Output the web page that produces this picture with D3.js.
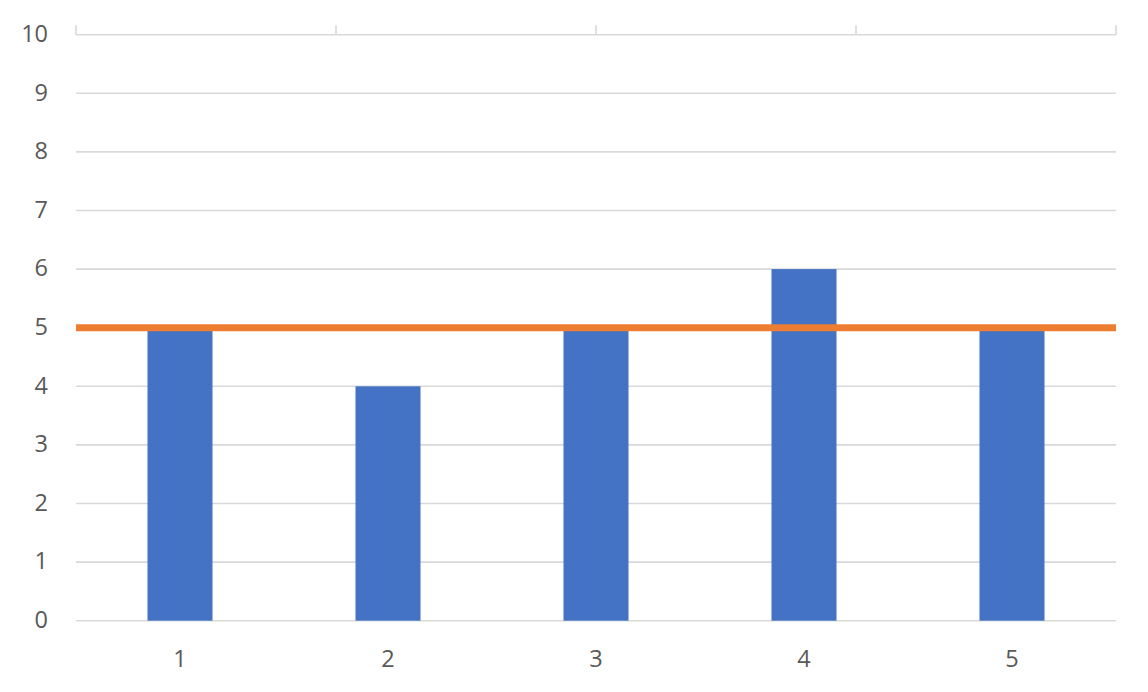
<!DOCTYPE html>
<html><head><meta charset="utf-8">
<script src="https://cdn.jsdelivr.net/npm/d3@7"></script>
<style>body{margin:0;background:#fff;} svg{display:block;}</style>
</head><body>
<svg id="c" width="1148" height="692"></svg>
<script>
const categories = ["1","2","3","4","5"];
const barValues = [5,4,5,6,5];
const lineCategories = ["1","2","3","4","5"];
const lineValues = [5,5,5,5,5];
const yTicks = [0,1,2,3,4,5,6,7,8,9,10];

const svg = d3.select("#c");
const L = 76, R = 1116, T = 34.7, B = 620.7;
const font = "'Open Sans', 'Noto Sans', sans-serif";

const x = d3.scaleBand().domain(categories).range([L,R]).paddingInner(0.6875).paddingOuter(0.34375);
const x2 = d3.scalePoint().domain(lineCategories).range([L,R]).padding(0);
const y = d3.scaleLinear().domain([0,10]).range([B,T]);

// gridlines
svg.append("g").selectAll("line").data(yTicks).join("line")
  .attr("x1",L).attr("x2",R).attr("y1",d=>y(d)).attr("y2",d=>y(d))
  .attr("stroke","#d9d9d9").attr("stroke-width",1.6);

// top secondary axis ticks
svg.append("g").selectAll("line").data(lineCategories).join("line")
  .attr("x1",d=>x2(d)).attr("x2",d=>x2(d)).attr("y1",T).attr("y2",T-9.5)
  .attr("stroke","#d9d9d9").attr("stroke-width",1.6);

// bars
svg.append("g").selectAll("rect").data(categories).join("rect")
  .attr("x",d=>x(d)).attr("width",x.bandwidth())
  .attr("y",(d,i)=>y(barValues[i])).attr("height",(d,i)=>y(0)-y(barValues[i]))
  .attr("fill","#4472c4");

// line
const line = d3.line().x((d,i)=>x2(lineCategories[i])).y(d=>y(d));
svg.append("path").datum(lineValues).attr("d",line)
  .attr("fill","none").attr("stroke","#ed7d31").attr("stroke-width",7);

// y labels
svg.append("g").selectAll("text").data(yTicks).join("text")
  .attr("x",48).attr("y",d=>y(d)-1).attr("dy","0.35em")
  .attr("text-anchor","end").attr("font-family",font).attr("font-size",23.5)
  .attr("fill","#595959").text(d=>d);

// x labels
svg.append("g").selectAll("text").data(categories).join("text")
  .attr("x",d=>x(d)+x.bandwidth()/2).attr("y",666.5)
  .attr("text-anchor","middle").attr("font-family",font).attr("font-size",23.5)
  .attr("fill","#595959").text(d=>d);
</script>
</body></html>
